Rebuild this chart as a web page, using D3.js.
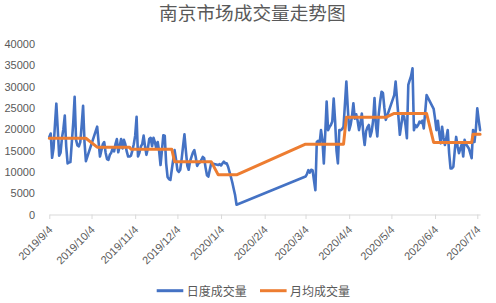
<!DOCTYPE html>
<html><head><meta charset="utf-8">
<script src="https://cdn.jsdelivr.net/npm/d3@7"></script>
<style>
body{margin:0;background:#fff;}
svg{display:block;}
</style></head><body>
<svg id="chart" width="496" height="303"></svg>
<script>
const title = "南京市场成交量走势图";
const seriesNames = ["日度成交量", "月均成交量"];
const seriesColors = ["#4472C4", "#ED7D31"];
const xTickLabels = ["2019/9/4","2019/10/4","2019/11/4","2019/12/4","2020/1/4","2020/2/4","2020/3/4","2020/4/4","2020/5/4","2020/6/4","2020/7/4"];
const yTicks = [0,5000,10000,15000,20000,25000,30000,35000,40000];
const xDomainLabels = ["2019/9/4","2020/7/6"];

const dates = [
"2019/9/4","2019/9/5","2019/9/6","2019/9/7","2019/9/8","2019/9/9","2019/9/10","2019/9/11","2019/9/12","2019/9/13","2019/9/14","2019/9/15","2019/9/16","2019/9/17","2019/9/18","2019/9/19","2019/9/20","2019/9/21","2019/9/22","2019/9/23","2019/9/24","2019/9/25","2019/9/26","2019/9/27","2019/9/28","2019/9/29","2019/9/30",
"2019/10/8","2019/10/9","2019/10/10","2019/10/11","2019/10/12","2019/10/13","2019/10/14","2019/10/15","2019/10/16","2019/10/17","2019/10/18","2019/10/19","2019/10/20","2019/10/21","2019/10/22","2019/10/23","2019/10/24","2019/10/25","2019/10/26","2019/10/27","2019/10/28","2019/10/29","2019/10/30","2019/10/31",
"2019/11/1","2019/11/2","2019/11/3","2019/11/4","2019/11/5","2019/11/6","2019/11/7","2019/11/8","2019/11/9","2019/11/10","2019/11/11","2019/11/12","2019/11/13","2019/11/14","2019/11/15","2019/11/16","2019/11/17","2019/11/18","2019/11/19","2019/11/20","2019/11/21","2019/11/22","2019/11/23","2019/11/24","2019/11/25","2019/11/26","2019/11/27","2019/11/28","2019/11/29","2019/11/30",
"2019/12/2","2019/12/3","2019/12/4","2019/12/5","2019/12/6","2019/12/7","2019/12/8","2019/12/9","2019/12/10","2019/12/11","2019/12/12","2019/12/13","2019/12/14","2019/12/15","2019/12/16","2019/12/17","2019/12/18","2019/12/19","2019/12/20","2019/12/21","2019/12/22","2019/12/23","2019/12/24","2019/12/25","2019/12/26","2019/12/27","2019/12/28",
"2020/1/2","2020/1/3","2020/1/4","2020/1/5","2020/1/6","2020/1/7","2020/1/8","2020/1/9","2020/1/10","2020/1/11","2020/1/12","2020/1/13","2020/1/14","2020/1/15",
"2020/3/4","2020/3/5","2020/3/6","2020/3/7","2020/3/8","2020/3/9","2020/3/10","2020/3/11","2020/3/12","2020/3/13","2020/3/14","2020/3/15","2020/3/16","2020/3/17","2020/3/18","2020/3/19","2020/3/20","2020/3/21","2020/3/22","2020/3/23","2020/3/24","2020/3/25","2020/3/26","2020/3/27","2020/3/28","2020/3/29","2020/3/30","2020/3/31",
"2020/4/2","2020/4/3","2020/4/4","2020/4/5","2020/4/6","2020/4/7","2020/4/8","2020/4/9","2020/4/10","2020/4/11","2020/4/12","2020/4/13","2020/4/14","2020/4/15","2020/4/16","2020/4/17","2020/4/18","2020/4/19","2020/4/20","2020/4/21","2020/4/22","2020/4/23","2020/4/24","2020/4/25","2020/4/26","2020/4/27","2020/4/28","2020/4/29","2020/4/30",
"2020/5/6","2020/5/7","2020/5/8","2020/5/9","2020/5/10","2020/5/11","2020/5/12","2020/5/13","2020/5/14","2020/5/15","2020/5/16","2020/5/17","2020/5/18","2020/5/19","2020/5/20","2020/5/21","2020/5/22","2020/5/23","2020/5/24","2020/5/25","2020/5/26","2020/5/27","2020/5/28","2020/5/29",
"2020/6/3","2020/6/4","2020/6/5","2020/6/6","2020/6/7","2020/6/8","2020/6/9","2020/6/10","2020/6/11","2020/6/12","2020/6/13","2020/6/14","2020/6/15","2020/6/16","2020/6/17","2020/6/18","2020/6/19","2020/6/20","2020/6/21","2020/6/22","2020/6/23","2020/6/24","2020/6/25","2020/6/26","2020/6/27","2020/6/28","2020/6/29","2020/6/30",
"2020/7/1","2020/7/2","2020/7/3","2020/7/4","2020/7/5","2020/7/6"
];

const dailyVolume = [
18200,19000,13300,15500,21000,26000,20000,13800,14500,18000,20000,23200,16000,12000,12200,12300,17000,21500,27600,17500,16200,16000,17000,21000,25500,17000,12500,
20600,17000,13600,15000,16500,17000,14500,13000,12800,14000,14500,15500,14800,16500,17700,14600,16000,17700,15500,17500,16500,14800,13600,13600,
13800,15000,16500,18500,22900,13600,14500,15900,16500,18500,16000,14000,15500,17700,18000,16000,18000,17000,15500,17000,14900,11600,15000,18600,18500,12000,8800,8300,8100,10500,
15100,13000,10400,10000,10500,13000,16000,18800,15000,11500,10500,12500,13500,14500,15100,13500,11400,12000,12200,12800,13500,13200,11000,9200,8900,10500,12000,
11600,11800,11500,12000,12400,12000,12000,11200,10000,8800,7500,6000,4500,2300,
8900,9500,10400,9800,10500,10400,8000,5700,17000,17300,16700,19800,17500,12000,19000,26500,19800,20500,21000,21800,27200,22000,15000,12000,19800,19800,20000,20600,
31200,25000,19800,21000,23000,26100,22500,23500,22000,19800,21500,23700,19000,16300,19500,20500,21000,18300,19500,22000,27300,21000,18300,23500,26500,28800,28500,25000,22200,
28000,31200,27000,22900,18700,21000,23300,23000,21000,17900,30400,31500,32500,34300,19800,21000,20500,21000,21800,21500,22000,20200,24000,28000,
24800,22500,19800,22000,19000,16700,20600,18000,16300,18000,19800,14400,10800,10800,11200,15000,18200,16000,14400,15500,16500,13600,17500,16500,16000,15500,14400,13200,
19800,17000,20000,24900,22200,19800
];

const monthKeys = ["2019/9","2019/10","2019/11","2019/12","2020/1","2020/3","2020/4","2020/5","2020/6","2020/7"];
const monthlyAvg = [17900,15800,15300,12400,9300,16500,22800,23700,16900,18800];

const parse = d3.timeParse("%Y/%m/%d");
const avgByMonth = new Map(monthKeys.map((k, i) => [k, monthlyAvg[i]]));
const rows = dates.map((s, i) => {
  const p = s.split("/");
  return { date: parse(s), daily: dailyVolume[i], avg: avgByMonth.get(p[0] + "/" + p[1]) };
});

const svg = d3.select("#chart");
const x = d3.scaleTime().domain(xDomainLabels.map(parse)).range([49.3, 480.1]);
const y = d3.scaleLinear().domain([0, 40000]).range([214.5, 44]);

const grey = "#595959";
const numFont = "'Liberation Sans', Arial, sans-serif";
const cjkFont = "'Noto Sans CJK SC', sans-serif";

// title
svg.append("text").attr("x", 252.4).attr("y", 11.5).attr("text-anchor", "middle")
  .attr("dominant-baseline", "central").attr("font-family", cjkFont)
  .attr("font-size", 18.67).attr("fill", grey).text(title);

// y axis (labels only)
const yAxis = svg.append("g").attr("transform", "translate(35,0)")
  .call(d3.axisLeft(y).tickValues(yTicks).tickSize(0).tickPadding(0).tickFormat(d3.format("d")));
yAxis.select(".domain").remove();
yAxis.selectAll("text").attr("font-family", numFont).attr("font-size", 11).attr("fill", grey);

// x axis
const xAxis = svg.append("g").attr("transform", `translate(0,${y(0)})`)
  .call(d3.axisBottom(x).tickValues(xTickLabels.map(parse)).tickSizeInner(4.5).tickSizeOuter(0)
    .tickFormat((d, i) => xTickLabels[i]));
xAxis.select(".domain").attr("stroke", "#D9D9D9").attr("stroke-width", 1);
xAxis.selectAll(".tick line").attr("stroke", "#D9D9D9");
xAxis.selectAll("text").attr("font-family", numFont).attr("font-size", 11).attr("fill", grey)
  .attr("opacity", 0.99)
  .attr("text-anchor", "end").attr("x", 0).attr("y", 0).attr("dy", 0)
  .attr("transform", "translate(3.5,16) rotate(-45)");

// lines
const lineDaily = d3.line().x(d => x(d.date)).y(d => y(d.daily));
const lineAvg = d3.line().x(d => x(d.date)).y(d => y(d.avg));
svg.append("path").datum(rows).attr("d", lineDaily).attr("fill", "none")
  .attr("stroke", seriesColors[0]).attr("stroke-width", 2.6).attr("stroke-linejoin", "round").attr("stroke-linecap", "round");
svg.append("path").datum(rows).attr("d", lineAvg).attr("fill", "none")
  .attr("stroke", seriesColors[1]).attr("stroke-width", 3).attr("stroke-linejoin", "round").attr("stroke-linecap", "round");

// legend
const legendX = [156.7, 260];
const leg = svg.append("g");
seriesNames.forEach((n, i) => {
  leg.append("line").attr("x1", legendX[i]).attr("x2", legendX[i] + 26.6)
    .attr("y1", 290.7).attr("y2", 290.7).attr("stroke", seriesColors[i]).attr("stroke-width", 3);
  leg.append("text").attr("x", legendX[i] + 30).attr("y", 290.7).attr("dominant-baseline", "central")
    .attr("font-family", cjkFont).attr("font-size", 12).attr("fill", grey).text(n);
});
</script>
</body></html>
